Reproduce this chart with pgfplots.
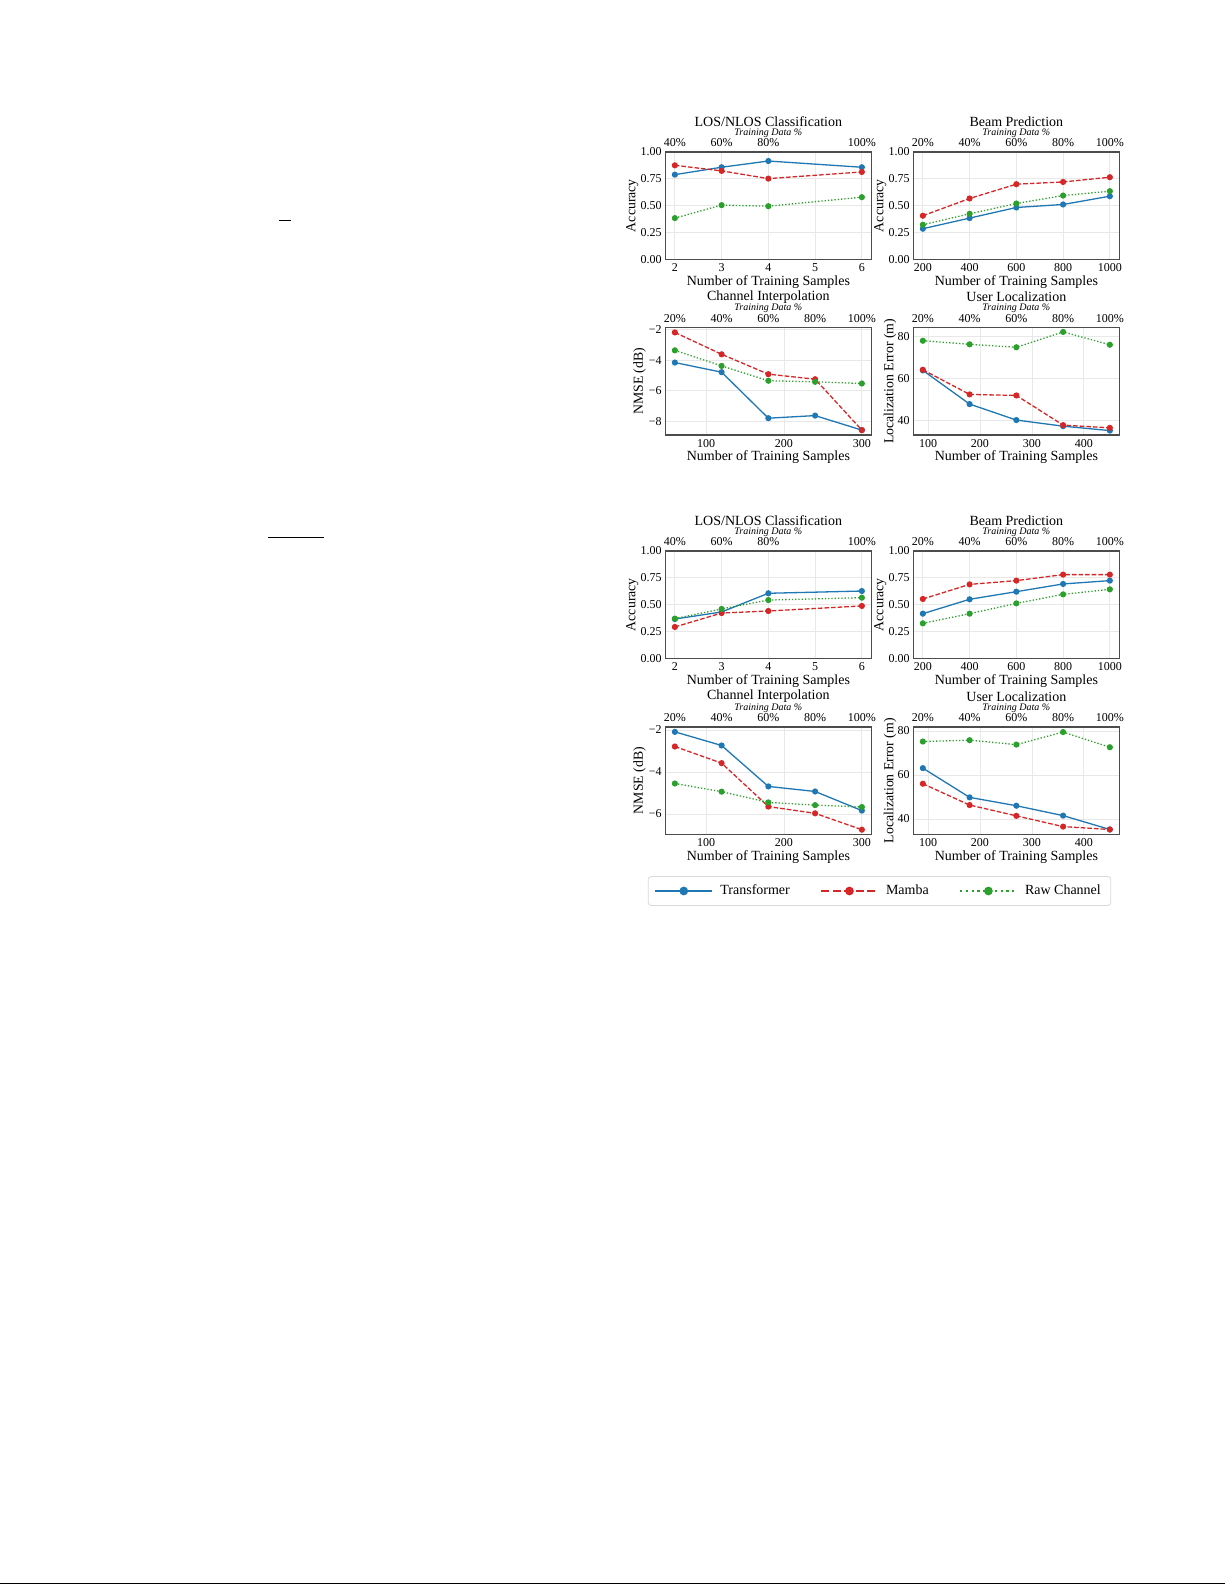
\documentclass[border=0pt]{standalone}
\usepackage{fontspec}
\setmainfont{Liberation Serif}
\usepackage{pgfplots}
\pgfplotsset{compat=1.18}

\definecolor{tblue}{HTML}{1F77B4}
\definecolor{tred}{HTML}{D62728}
\definecolor{tgreen}{HTML}{2CA02C}

\newcommand{\tickfont}{\fontsize{6}{7}\selectfont}
\newcommand{\labfont}{\fontsize{7}{8}\selectfont}
\newcommand{\ylabfont}{\fontsize{6.9}{8}\selectfont}

\pgfplotsset{
 every axis title shift=0pt,
 panel/.style={
  scale only axis, width=102.85pt, height=53.65pt, anchor=south west,
  axis line style={draw=black!70, line width=0.6pt},
  grid=major, major grid style={draw=black!9, line width=0.4pt},
  major tick length=0pt,
  tick label style={font=\tickfont, text=black},
  yticklabel style={inner xsep=1.7pt},
  xticklabel style={anchor=center, yshift=-4.3pt},
  xlabel={Number of Training Samples},
  xlabel style={font=\labfont, at={([yshift=-11.2pt]axis description cs:0.5,0)}, anchor=center},
  title style={font=\labfont, at={([yshift=15.35pt]axis description cs:0.5,1)}, anchor=center},
 },
 topaxis/.style={
  scale only axis, width=102.85pt, height=53.65pt, anchor=south west,
  axis x line*=top, axis y line=none, axis line style={draw=none},
  ymin=0, ymax=1, major tick length=0pt,
  tick label style={font=\tickfont, text=black},
  xticklabel style={anchor=center, yshift=4.65pt},
  xlabel={Training Data \%},
  xlabel style={font=\fontsize{5}{6}\selectfont\itshape, at={([yshift=9.6pt]axis description cs:0.5,1)}, anchor=center},
 },
 accy/.style={ymin=0, ymax=1, ytick={0,0.25,0.5,0.75,1}, yticklabels={0.00,0.25,0.50,0.75,1.00}, ylabel={Accuracy},
   ylabel style={font=\ylabfont, at={([xshift=-16.6pt]axis description cs:0,0.5)}, anchor=center}},
 losx/.style={xmin=1.8, xmax=6.2, xtick={2,3,4,5,6}, xticklabels={2,3,4,5,6}},
 losxt/.style={xmin=1.8, xmax=6.2, xtick={2,3,4,6}, xticklabels={40\%,60\%,80\%,100\%}},
 beamx/.style={xmin=160, xmax=1040, xtick={200,400,600,800,1000}, xticklabels={200,400,600,800,1000}},
 beamxt/.style={xmin=160, xmax=1040, xtick={200,400,600,800,1000}, xticklabels={20\%,40\%,60\%,80\%,100\%}},
 chx/.style={xmin=48, xmax=312, xtick={100,200,300}, xticklabels={100,200,300}},
 chxt/.style={xmin=48, xmax=312, xtick={60,120,180,240,300}, xticklabels={20\%,40\%,60\%,80\%,100\%}},
 ulx/.style={xmin=72, xmax=468, xtick={100,200,300,400}, xticklabels={100,200,300,400}},
 ulxt/.style={xmin=72, xmax=468, xtick={90,180,270,360,450}, xticklabels={20\%,40\%,60\%,80\%,100\%}},
 chy/.style={ylabel={NMSE (dB)}, ylabel style={font=\ylabfont, at={([xshift=-13pt]axis description cs:0,0.5)}, anchor=center}},
 uly/.style={ytick={40,60,80}, yticklabels={40,60,80}, ylabel={Localization Error (m)},
   ylabel style={font=\ylabfont, at={([xshift=-11.75pt]axis description cs:0,0.5)}, anchor=center}},
 tr/.style={tblue, line width=0.65pt, mark=*, mark size=1.2pt, mark options={solid}},
 mb/.style={tred, line width=0.65pt, dash pattern=on 2.3pt off 1pt, mark=*, mark size=1.2pt, mark options={solid}},
 rc/.style={tgreen, line width=0.65pt, dash pattern=on 0.65pt off 1pt, mark=*, mark size=1.2pt, mark options={solid}},
}

\begin{document}
\begin{tikzpicture}
\path[use as bounding box] (0pt,0pt) rectangle (612.5pt,-792.5pt);
\fill[white] (0pt,0pt) rectangle (612.5pt,-792.5pt);
% stray page marks
\draw[black, line width=0.6pt] (139.5pt,-110.15pt) -- (145.5pt,-110.15pt);
\draw[black, line width=0.6pt] (134.15pt,-268.65pt) -- (162pt,-268.65pt);
\draw[black, line width=0.6pt] (0pt,-791.85pt) -- (612.5pt,-791.85pt);

% ===== Panel 1: LOS/NLOS top =====
\begin{axis}[panel, accy, losx, at={(332.75pt,-129.65pt)}, title={LOS/NLOS Classification}]
\addplot[tr] coordinates {(2,0.789) (3,0.858) (4,0.916) (6,0.858)};
\addplot[mb] coordinates {(2,0.876) (3,0.824) (4,0.752) (6,0.814)};
\addplot[rc] coordinates {(2,0.384) (3,0.505) (4,0.495) (6,0.579)};
\end{axis}
\begin{axis}[topaxis, losxt, at={(332.75pt,-129.65pt)}]
\end{axis}

% ===== Panel 2: Beam top =====
\begin{axis}[panel, accy, beamx, at={(456.75pt,-129.65pt)}, title={Beam Prediction}]
\addplot[tr] coordinates {(200,0.285) (400,0.384) (600,0.483) (800,0.511) (1000,0.588)};
\addplot[mb] coordinates {(200,0.406) (400,0.567) (600,0.700) (800,0.721) (1000,0.765)};
\addplot[rc] coordinates {(200,0.322) (400,0.424) (600,0.520) (800,0.594) (1000,0.635)};
\end{axis}
\begin{axis}[topaxis, beamxt, at={(456.75pt,-129.65pt)}]
\end{axis}

% ===== Panel 3: Channel top =====
\begin{axis}[panel, chx, chy, ymin=-8.9, ymax=-1.88, ytick={-8,-6,-4,-2}, yticklabels={−8,−6,−4,−2},
  at={(332.75pt,-217.5pt)}, title={Channel Interpolation}]
\addplot[tr] coordinates {(60,-4.16) (120,-4.79) (180,-7.80) (240,-7.63) (300,-8.58)};
\addplot[mb] coordinates {(60,-2.19) (120,-3.62) (180,-4.92) (240,-5.25) (300,-8.58)};
\addplot[rc] coordinates {(60,-3.36) (120,-4.38) (180,-5.35) (240,-5.42) (300,-5.53)};
\end{axis}
\begin{axis}[topaxis, chxt, at={(332.75pt,-217.5pt)}]
\end{axis}

% ===== Panel 4: User loc top =====
\begin{axis}[panel, ulx, uly, ymin=33.1, ymax=84.1, at={(456.75pt,-217.5pt)}, title={User Localization}]
\addplot[tr] coordinates {(90,63.8) (180,47.8) (270,40.2) (360,37.3) (450,35.2)};
\addplot[mb] coordinates {(90,64.1) (180,52.4) (270,51.9) (360,37.8) (450,36.5)};
\addplot[rc] coordinates {(90,77.9) (180,76.2) (270,74.8) (360,82.1) (450,76.0)};
\end{axis}
\begin{axis}[topaxis, ulxt, at={(456.75pt,-217.5pt)}]
\end{axis}

% ===== Panel 5: LOS/NLOS bottom =====
\begin{axis}[panel, accy, losx, at={(332.75pt,-329.15pt)}, title={LOS/NLOS Classification}]
\addplot[tr] coordinates {(2,0.366) (3,0.432) (4,0.606) (6,0.627)};
\addplot[mb] coordinates {(2,0.292) (3,0.422) (4,0.441) (6,0.488)};
\addplot[rc] coordinates {(2,0.370) (3,0.460) (4,0.543) (6,0.565)};
\end{axis}
\begin{axis}[topaxis, losxt, at={(332.75pt,-329.15pt)}]
\end{axis}

% ===== Panel 6: Beam bottom =====
\begin{axis}[panel, accy, beamx, at={(456.75pt,-329.15pt)}, title={Beam Prediction}]
\addplot[tr] coordinates {(200,0.416) (400,0.550) (600,0.621) (800,0.693) (1000,0.724)};
\addplot[mb] coordinates {(200,0.553) (400,0.689) (600,0.724) (800,0.780) (1000,0.780)};
\addplot[rc] coordinates {(200,0.326) (400,0.416) (600,0.512) (800,0.596) (1000,0.643)};
\end{axis}
\begin{axis}[topaxis, beamxt, at={(456.75pt,-329.15pt)}]
\end{axis}

% ===== Panel 7: Channel bottom =====
\begin{axis}[panel, chx, chy, ymin=-6.97, ymax=-1.86, ytick={-6,-4,-2}, yticklabels={−6,−4,−2},
  at={(332.75pt,-417.15pt)}, title={Channel Interpolation}]
\addplot[tr] coordinates {(60,-2.09) (120,-2.74) (180,-4.69) (240,-4.93) (300,-5.84)};
\addplot[mb] coordinates {(60,-2.79) (120,-3.58) (180,-5.65) (240,-5.97) (300,-6.75)};
\addplot[rc] coordinates {(60,-4.55) (120,-4.94) (180,-5.45) (240,-5.58) (300,-5.67)};
\end{axis}
\begin{axis}[topaxis, chxt, at={(332.75pt,-417.15pt)}]
\end{axis}

% ===== Panel 8: User loc bottom =====
\begin{axis}[panel, ulx, uly, ymin=33.0, ymax=81.8, at={(456.75pt,-417.15pt)}, title={User Localization}]
\addplot[tr] coordinates {(90,63.1) (180,49.8) (270,46.0) (360,41.5) (450,35.2)};
\addplot[mb] coordinates {(90,56.0) (180,46.3) (270,41.4) (360,36.5) (450,35.2)};
\addplot[rc] coordinates {(90,75.2) (180,75.8) (270,73.8) (360,79.5) (450,72.6)};
\end{axis}
\begin{axis}[topaxis, ulxt, at={(456.75pt,-417.15pt)}]
\end{axis}

% ===== Legend =====
\begin{axis}[hide axis, scale only axis, width=10pt, height=10pt, xmin=0, xmax=1, ymin=0, ymax=1,
  at={(439.75pt,-445.5pt)}, anchor=center, legend columns=3,
  legend style={at={(0.5,0.5)}, anchor=center, draw=black!15, line width=0.4pt, rounded corners=1.5pt,
    font=\labfont, inner ysep=2pt, inner xsep=3pt,
    /tikz/every even column/.append style={column sep=13pt},
    /tikz/every odd column/.append style={column sep=1.5pt}},
  legend image code/.code={\draw[mark repeat=2,mark phase=2] plot coordinates {(0pt,0pt) (14.25pt,0pt) (28.5pt,0pt)};}]
\addlegendimage{tblue, line width=1.1pt, mark=*, mark size=1.6pt, mark options={solid}}
\addlegendentry{Transformer}
\addlegendimage{tred, line width=1.1pt, dash pattern=on 4pt off 1.8pt, mark=*, mark size=1.6pt, mark options={solid}}
\addlegendentry{Mamba}
\addlegendimage{tgreen, line width=1.1pt, dash pattern=on 1.1pt off 1.8pt, mark=*, mark size=1.6pt, mark options={solid}}
\addlegendentry{Raw Channel}
\end{axis}
\end{tikzpicture}
\end{document}
